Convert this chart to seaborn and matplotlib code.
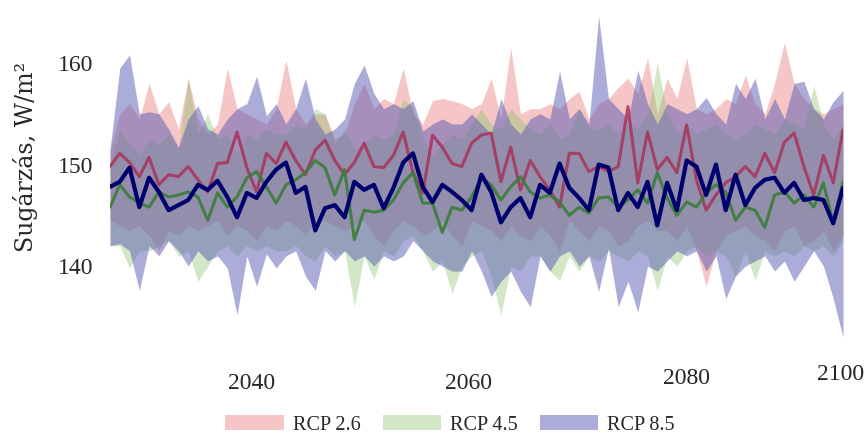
import numpy as np
import pandas as pd
import matplotlib
matplotlib.use("Agg")
import matplotlib.pyplot as plt
import matplotlib.transforms as mtransforms
from matplotlib.patches import Patch
import seaborn as sns

years = list(range(2025, 2101))

rcp26_mean = [149.8, 151.1, 150.2, 148.8, 150.7, 148.0, 149.0, 148.8, 149.8, 148.5, 147.3,
              150.1, 150.2, 153.2, 149.7, 147.3, 151.1, 150.1, 152.2, 150.4, 149.0, 151.4,
              152.4, 150.4, 149.0, 150.2, 152.1, 149.8, 149.7, 150.9, 153.2, 149.2, 147.2,
              152.9, 151.7, 150.1, 149.8, 152.1, 152.9, 153.1, 148.3, 151.7, 147.5, 150.4,
              148.8, 147.5, 145.8, 151.1, 151.1, 149.3, 149.8, 149.3, 149.8, 155.7, 148.2,
              153.2, 149.5, 150.7, 149.2, 153.9, 148.5, 145.5, 147.0, 148.2, 148.8, 149.8,
              148.8, 151.1, 149.2, 152.2, 153.1, 149.8, 147.0, 150.9, 148.2, 153.4]
rcp45_mean = [145.8, 148.0, 146.8, 146.2, 145.8, 147.3, 146.8, 147.0, 147.3, 146.8, 144.5,
              147.2, 145.8, 146.8, 148.7, 149.3, 147.8, 146.2, 148.0, 148.5, 149.2, 150.4,
              149.7, 147.0, 149.5, 142.6, 145.5, 145.3, 145.5, 146.5, 148.2, 149.2, 146.2,
              146.2, 143.3, 145.8, 145.5, 146.8, 148.7, 148.0, 146.5, 147.8, 148.8, 147.3,
              146.7, 147.0, 146.3, 145.0, 145.8, 145.2, 146.7, 146.8, 145.8, 146.5, 147.5,
              146.2, 149.2, 146.7, 145.0, 146.3, 145.8, 147.2, 148.0, 147.3, 144.5, 145.8,
              145.5, 143.8, 147.0, 147.3, 146.2, 147.0, 145.8, 148.2, 144.2, 148.3]
rcp85_mean = [147.8, 148.3, 149.7, 145.8, 148.7, 147.3, 145.5, 146.0, 146.5, 148.0, 147.5,
              148.4, 146.8, 144.8, 147.2, 146.7, 148.3, 149.5, 150.2, 147.2, 147.8, 143.5,
              145.7, 146.0, 144.8, 148.3, 147.5, 148.0, 145.7, 147.7, 150.2, 151.1, 147.8,
              146.3, 148.0, 147.3, 146.5, 145.5, 149.0, 147.3, 144.3, 145.8, 146.7, 144.8,
              148.0, 147.2, 150.1, 147.7, 146.7, 145.5, 150.0, 149.7, 145.5, 147.2, 145.8,
              148.3, 144.0, 148.2, 145.5, 150.4, 149.8, 147.0, 150.0, 145.5, 149.0, 146.0,
              147.7, 148.5, 148.7, 147.2, 148.2, 146.5, 146.7, 146.5, 144.2, 147.7]

rcp26_upper = [151.5, 155.0, 156.0, 154.5, 158.0, 155.0, 156.2, 153.5, 158.5, 154.5, 153.0,
               154.0, 159.5, 155.5, 155.0, 154.5, 154.0, 155.5, 160.3, 155.5, 154.0, 155.0,
               155.0, 152.5, 153.0, 156.0, 158.0, 155.5, 156.5, 156.0, 159.5, 155.0, 154.0,
               156.3, 156.5, 156.3, 156.0, 155.5, 156.0, 158.5, 154.5, 161.5, 155.0, 155.5,
               155.5, 156.0, 155.5, 156.5, 157.2, 154.5, 156.0, 156.5, 157.6, 158.5, 157.0,
               160.5, 155.0, 158.5, 156.5, 160.5, 155.5, 155.0, 155.5, 156.5, 156.0, 158.8,
               156.0, 155.0, 158.0, 162.0, 158.0, 156.5, 155.5, 155.0, 155.5, 156.0]
rcp26_lower = [144.5, 144.0, 143.5, 144.0, 143.0, 141.5, 143.5, 143.0, 144.0, 143.5, 144.0,
               144.5, 143.0, 144.0, 143.5, 142.5, 144.0, 143.5, 144.5, 144.0, 143.0, 144.5,
               144.5, 144.0, 143.5, 144.0, 144.5, 143.0, 142.0, 143.5, 144.5, 144.0, 143.0,
               143.5, 144.5, 143.0, 142.0, 144.5, 144.0, 143.5, 142.5, 144.0, 143.0, 142.5,
               144.0, 143.0, 141.5, 144.5, 143.5, 142.5, 144.0, 143.5, 142.0, 142.5, 144.0,
               144.5, 143.5, 143.5, 142.5, 144.0, 141.5, 138.0, 141.5, 143.0, 143.5, 144.0,
               143.0, 142.5, 141.5, 143.5, 144.0, 142.0, 142.5, 143.5, 141.5, 143.0]
rcp45_upper = [150.0, 153.5, 152.0, 151.0, 152.5, 152.0, 153.0, 151.5, 158.5, 153.0, 155.0,
               152.5, 153.0, 151.0, 153.0, 152.5, 153.5, 153.0, 153.0, 154.0, 153.5, 155.5,
               155.0, 152.0, 153.5, 151.5, 152.0, 153.0, 152.5, 153.0, 156.5, 155.5, 152.5,
               151.0, 152.0, 153.0, 152.5, 154.0, 155.5, 154.0, 153.5, 155.5, 154.5, 153.5,
               153.0, 154.0, 152.5, 153.0, 155.5, 153.5, 153.5, 154.0, 153.0, 154.0, 153.5,
               155.0, 160.0, 155.0, 153.0, 154.0, 153.0, 153.5, 154.0, 153.0, 152.5, 153.0,
               154.0, 153.5, 153.0, 154.5, 154.0, 153.5, 157.8, 154.0, 152.5, 154.0]
rcp45_lower = [142.0, 142.0, 139.8, 141.5, 141.5, 142.0, 142.5, 141.0, 141.5, 138.5, 140.0,
               141.5, 142.0, 141.0, 142.0, 141.5, 142.0, 141.5, 141.5, 142.0, 141.0, 140.5,
               142.0, 141.0, 141.5, 136.0, 141.0, 138.7, 141.5, 141.0, 142.5, 143.0, 141.5,
               139.5, 140.5, 137.3, 140.0, 141.0, 141.5, 139.0, 135.2, 140.0, 139.5, 141.0,
               141.0, 139.5, 138.6, 141.0, 139.5, 141.0, 140.5, 141.5, 141.0, 140.5, 141.5,
               141.0, 137.6, 141.0, 140.0, 141.5, 142.0, 141.0, 141.5, 141.0, 139.0, 141.5,
               138.6, 141.5, 141.0, 141.5, 141.0, 142.0, 141.5, 142.0, 141.0, 142.5]
rcp85_upper = [151.5, 159.5, 160.8, 155.0, 155.2, 155.0, 153.5, 151.7, 154.5, 155.8, 153.5,
               153.0, 154.5, 155.5, 156.0, 158.7, 154.8, 156.0, 154.0, 155.5, 158.5, 154.5,
               153.0, 153.5, 154.5, 158.0, 159.8, 157.0, 155.5, 156.0, 155.5, 156.3, 153.3,
               154.0, 154.5, 154.0, 154.0, 155.0, 154.0, 153.0, 156.5, 154.0, 153.0, 154.5,
               155.0, 154.5, 159.2, 154.5, 155.5, 154.0, 164.6, 156.5, 155.5, 154.5, 159.3,
               156.0, 154.0, 156.0, 155.5, 155.0, 155.5, 156.6, 155.0, 154.0, 158.0, 156.5,
               158.5, 154.5, 156.5, 154.5, 158.0, 158.2, 155.5, 154.5, 156.2, 157.3]
rcp85_lower = [142.0, 142.2, 141.5, 137.6, 142.0, 141.0, 142.5, 141.5, 140.0, 141.5, 140.5,
               141.0, 139.8, 135.2, 141.0, 138.0, 141.2, 139.8, 141.0, 141.5, 139.0, 137.6,
               141.5, 140.5, 141.5, 140.5, 141.0, 140.0, 141.0, 140.5, 141.0, 142.5, 141.5,
               140.5, 140.0, 139.5, 139.5, 141.5, 139.5, 137.0, 138.5, 139.5, 137.5, 136.0,
               141.0, 139.5, 141.0, 141.5, 140.0, 141.0, 137.5, 141.8, 136.0, 138.5, 135.5,
               140.0, 139.5, 140.5, 141.5, 141.0, 141.5, 139.5, 141.0, 136.8, 139.0, 140.0,
               140.5, 141.0, 139.5, 140.5, 138.5, 140.0, 141.5, 140.0, 136.8, 133.0]

series_names = ["RCP 2.6", "RCP 4.5", "RCP 8.5"]
tick_labels = ["2040", "2060", "2080", "2100"]
yticks = [140, 150, 160]

band_colors = ["#eb7878", "#8cc36e", "#5a5ab4"]
band_alpha = [0.42, 0.40, 0.50]
line_colors = ["#a8325a", "#3c7d3c", "#00006e"]
line_widths = [2.2, 2.2, 3.0]
line_alpha = [0.85, 0.9, 1.0]

sns.set_theme(style="white")
plt.rcParams["font.family"] = ["Liberation Serif", "DejaVu Serif"]

fig = plt.figure(figsize=(8.67, 4.36), dpi=100)
W, H = 867, 436
ax = fig.add_axes([110 / W, (H - 345) / H, 733 / W, 335 / H])

uppers = [rcp26_upper, rcp45_upper, rcp85_upper]
lowers = [rcp26_lower, rcp45_lower, rcp85_lower]
means = [rcp26_mean, rcp45_mean, rcp85_mean]

for i in range(3):
    ax.fill_between(years, lowers[i], uppers[i], color=band_colors[i],
                    alpha=band_alpha[i], linewidth=0)

df = pd.DataFrame({
    "year": years * 3,
    "value": rcp26_mean + rcp45_mean + rcp85_mean,
    "series": sum([[n] * len(years) for n in series_names], []),
})
for i, name in enumerate(series_names):
    sns.lineplot(data=df[df["series"] == name], x="year", y="value", ax=ax,
                 color=line_colors[i], linewidth=line_widths[i], alpha=line_alpha[i],
                 legend=False)

ax.set_xlim(2025, 2100)
ax.set_ylim(132.22, 165.22)
ax.set_xticks([2039.5, 2061.7, 2084.0, 2099.7])
ax.set_xticklabels(tick_labels)
ax.set_yticks(yticks)
ax.set_yticklabels([str(v) for v in yticks])
ax.tick_params(axis="x", length=0, pad=20, labelsize=17)
ax.tick_params(axis="y", length=0, pad=12, labelsize=17)
for lab, dy in zip(ax.get_xticklabels(), [0, 0, 5, 9]):
    lab.set_transform(lab.get_transform() +
                      mtransforms.ScaledTranslation(0, dy / 100, fig.dpi_scale_trans))
ax.set_xlabel("")
ax.set_ylabel("Sugárzás, W/m²", fontsize=17,
              family=["DejaVu Serif", "Liberation Serif"])
ax.yaxis.set_label_coords(-0.098, 0.56)
for s in ax.spines.values():
    s.set_visible(False)
ax.grid(False)
ax.set_facecolor("white")

handles = [Patch(facecolor=band_colors[i], alpha=band_alpha[i], edgecolor="none",
                 label=series_names[i]) for i in range(3)]
fig.legend(handles=handles, loc="center", bbox_to_anchor=(450 / W, 11 / H), ncol=3,
           frameon=False, fontsize=14.5, handlelength=2.9, handleheight=0.7,
           handletextpad=0.45, columnspacing=1.1)

fig.savefig("out.png", dpi=100, facecolor="white")
